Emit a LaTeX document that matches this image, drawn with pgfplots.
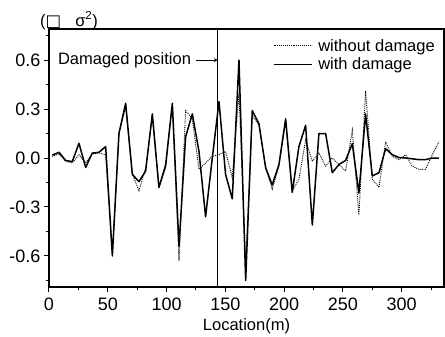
\documentclass[border=0pt]{standalone}
\usepackage{fontspec}
\setmainfont{Liberation Sans}
\newfontfamily\dejavu{DejaVu Sans}
\usepackage{pgfplots}
\pgfplotsset{compat=1.18}
\pgfplotstableread{
x y
2.8 0.01
8.5 0.025
14.2 -0.02
19.8 -0.03
25.5 0.02
31.2 -0.03
36.8 0.025
42.5 0.03
48.2 0.02
53.9 -0.58
59.5 0.15
65.2 0.31
70.9 -0.10
76.5 -0.20
82.2 -0.06
87.9 0.25
93.5 -0.18
99.2 -0.03
104.9 0.32
110.6 -0.63
116.2 0.29
121.9 0.24
127.6 -0.07
133.2 -0.03
138.9 0.01
144.6 0.02
150.2 0.04
155.9 -0.12
161.6 0.40
167.3 -0.65
172.9 0.26
178.6 0.20
184.3 -0.06
189.9 -0.19
195.6 -0.05
201.3 0.22
206.9 -0.20
212.6 -0.13
218.3 0.11
224.0 -0.02
229.6 0.03
235.3 -0.05
241.0 0.0
246.6 -0.04
252.3 -0.08
258.0 0.17
263.6 -0.35
269.3 0.41
275.0 -0.13
280.7 -0.18
286.3 0.10
292.0 0.01
297.7 -0.01
303.3 0.02
309.0 -0.05
314.7 -0.07
320.3 -0.07
326.0 0.02
331.7 0.10
}\without
\pgfplotstableread{
x y
2.8 0.018
8.5 0.035
14.2 -0.015
19.8 -0.022
25.5 0.09
31.2 -0.058
36.8 0.03
42.5 0.035
48.2 0.07
53.9 -0.60
59.5 0.15
65.2 0.335
70.9 -0.10
76.5 -0.145
82.2 -0.08
87.9 0.27
93.5 -0.18
99.2 -0.05
104.9 0.335
110.6 -0.54
116.2 0.13
121.9 0.27
127.6 0.04
133.2 -0.36
138.9 0.0
144.6 0.345
150.2 -0.10
155.9 -0.25
161.6 0.60
167.3 -0.75
172.9 0.29
178.6 0.21
184.3 -0.06
189.9 -0.165
195.6 -0.04
201.3 0.24
206.9 -0.21
212.6 0.07
218.3 0.20
224.0 -0.41
229.6 0.15
235.3 0.15
241.0 -0.09
246.6 -0.04
252.3 -0.015
258.0 0.088
263.6 -0.215
269.3 0.27
275.0 -0.11
280.7 -0.09
286.3 0.057
292.0 0.02
297.7 0.003
303.3 0.0
309.0 -0.005
314.7 -0.01
320.3 -0.01
326.0 0.0
331.7 0.0
}\withd
\begin{document}
\begin{tikzpicture}[font=\fontsize{16.5}{19}\selectfont]
\path (-49pt,-46pt) rectangle (396pt,287pt);
\begin{axis}[
 at={(0,0)}, anchor=south west,
 scale only axis, width=395pt, height=258pt,
 xmin=0, xmax=336, ymin=-0.79, ymax=0.79,
 xtick={0,50,...,300}, minor xtick={25,75,...,325},
 ytick={-0.6,-0.3,0,0.3,0.6}, minor ytick={-0.75,-0.45,-0.15,0.15,0.45,0.75},
 tick align=outside, xtick pos=bottom, ytick pos=left,
 major tick length=5pt, minor tick length=3pt,
 every tick/.style={black, line width=1pt},
 axis line style={line width=1.2pt},
 /pgf/number format/assume math mode=true,
 yticklabel style={/pgf/number format/fixed, /pgf/number format/fixed zerofill, /pgf/number format/precision=1},
 xticklabel style={/pgf/number format/fixed, yshift=-2pt},
 tick label style={font=\fontsize{18}{20}\selectfont},
 xlabel={Location(m)},
 xlabel style={yshift=-1pt},
 legend style={at={(1,1)}, anchor=north east, draw=none, fill=none, xshift=-4pt, yshift=-6pt, row sep=1pt, font=\fontsize{16.5}{19}\selectfont,
   /tikz/every odd column/.append style={column sep=4pt}},
 legend cell align=left,
 legend image code/.code={\draw[#1] (0pt,0pt) -- (38pt,0pt);},
 clip=false,
]
\addplot[black, densely dotted, line width=0.9pt] table[x=x,y=y] {\without};
\addlegendentry{without damage}
\addplot[black, line width=1.5pt, line join=round] table[x=x,y=y] {\withd};
\addlegendentry{with damage}
\addplot[black, line width=0.8pt, forget plot] coordinates {(143.5,-0.79) (143.5,0.79)};
\node[anchor=west, inner sep=0pt] at (axis cs:7.5,0.6) {Damaged position};
\draw[-stealth, line width=0.7pt] (axis cs:125,0.6) -- (axis cs:143.5,0.6);
\node[anchor=base west, inner sep=0pt] at ([xshift=-9pt,yshift=3pt]rel axis cs:0,1) {({\dejavu □}\hspace{14pt}σ\textsuperscript{2})};
\end{axis}
\end{tikzpicture}
\end{document}
